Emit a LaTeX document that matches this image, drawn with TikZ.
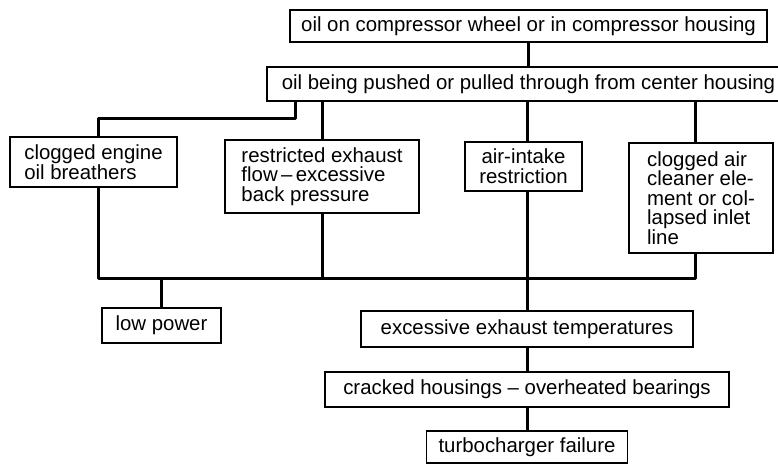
\documentclass[tikz,border=0pt]{standalone}
\usepackage{fontspec}
\setmainfont{Liberation Sans}
\usetikzlibrary{positioning}
\tikzset{
  cause/.style={draw, line width=0.9pt, inner sep=0pt, align=center,
    font={\fontsize{10.2}{9.8}\selectfont}},
  link/.style={line width=1.5pt, line join=round}
}

\begin{document}
\begin{tikzpicture}[x=0.5pt,y=-0.5pt]

  \clip (0,0) rectangle (778,466);

  \node[cause, minimum width=238.5pt, minimum height=16pt] (wheel) at (528.5,26)
    {oil on compressor wheel or in compressor housing};
  \node[cause, minimum width=261.5pt, minimum height=17pt] (center) at (528.5,84)
    {oil being pushed or pulled through from center housing};

  \node[cause, align=left, minimum width=83.5pt, minimum height=25pt] (breathers) at (93.5,162)
    {clogged engine\\oil breathers};
  \node[cause, align=left, minimum width=97pt, minimum height=36.5pt] (restricted) at (322,176.5)
    {restricted exhaust\\flow\,--\,excessive\\back pressure};
  \node[cause, minimum width=58.5pt, minimum height=24.5pt] (intake) at (523.5,166.5)
    {air-intake\\restriction};
  \node[cause, align=left, minimum width=72pt, minimum height=55pt] (cleaner) at (701,198)
    {clogged air\\cleaner ele-\\ment or col-\\lapsed inlet\\line};

  \node[cause, minimum width=59.5pt, minimum height=17.5pt] (lowpower) at (161.5,325.5)
    {low power};
  \node[cause, minimum width=166pt, minimum height=18pt] (exhaust) at (527,329)
    {excessive exhaust temperatures};
  \node[cause, minimum width=202pt, minimum height=17.5pt] (cracked) at (527,389.5)
    {cracked housings -- overheated bearings};
  \node[cause, minimum width=100.5pt, minimum height=16pt] (failure) at (527,447)
    {turbocharger failure};

  \coordinate (knee) at (295,118);
  \coordinate (busW) at (98,278);
  \coordinate (hub) at (527,278);
  \coordinate (busE) at (695,278);

  \draw[link] (wheel) -- (center);
  \draw[link] (center.south -| knee) -- (knee) -| (breathers.north -| busW);
  \draw[link] (center.south -| restricted) -- (restricted);
  \draw[link] (center.south -| hub) -- (intake.north -| hub);
  \draw[link] (center.south -| busE) -- (cleaner.north -| busE);

  \draw[link] (breathers.south -| busW) -- (busW) -- (busE) -- (cleaner.south -| busE);
  \draw[link] (restricted) -- (restricted |- hub);
  \draw[link] (intake.south -| hub) -- (exhaust);
  \draw[link] (lowpower) -- (lowpower |- busW);

  \draw[link] (exhaust) -- (cracked);
  \draw[link] (cracked) -- (failure);

\end{tikzpicture}
\end{document}
